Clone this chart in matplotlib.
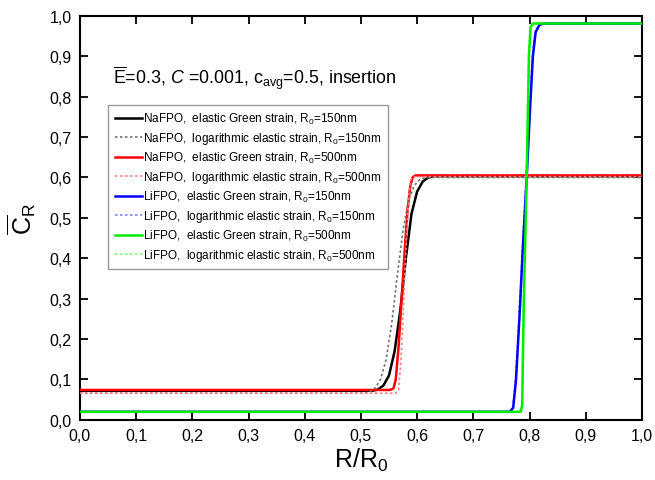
import matplotlib
matplotlib.use("Agg")
import matplotlib.pyplot as plt
from matplotlib.ticker import FuncFormatter

plt.rcParams['font.family'] = ['Liberation Sans', 'DejaVu Sans']
plt.rcParams['mathtext.fontset'] = 'custom'
plt.rcParams['mathtext.rm'] = 'Liberation Sans'
plt.rcParams['mathtext.it'] = 'Liberation Sans:italic'
plt.rcParams['mathtext.bf'] = 'Liberation Sans:bold'

# ---- data ----
na150_green_x = [0.0, 0.520, 0.530, 0.540, 0.550, 0.560, 0.570, 0.580, 0.590, 0.600, 0.610, 0.620, 0.630, 1.0]
na150_green_y = [0.072, 0.072, 0.075, 0.085, 0.110, 0.170, 0.270, 0.400, 0.510, 0.565, 0.590, 0.600, 0.603, 0.603]

na150_log_x = [0.0, 0.505, 0.515, 0.525, 0.535, 0.545, 0.555, 0.565, 0.575, 0.585, 0.595, 0.605, 0.615, 1.0]
na150_log_y = [0.066, 0.066, 0.069, 0.078, 0.100, 0.150, 0.240, 0.360, 0.470, 0.545, 0.580, 0.595, 0.600, 0.600]

na500_green_x = [0.0, 0.552, 0.558, 0.562, 0.567, 0.572, 0.578, 0.583, 0.588, 0.592, 0.597, 1.0]
na500_green_y = [0.074, 0.074, 0.078, 0.100, 0.180, 0.290, 0.420, 0.520, 0.580, 0.600, 0.605, 0.605]

na500_log_x = [0.0, 0.562, 0.567, 0.571, 0.575, 0.579, 0.583, 0.586, 0.589, 0.594, 1.0]
na500_log_y = [0.066, 0.066, 0.075, 0.140, 0.260, 0.390, 0.500, 0.565, 0.595, 0.602, 0.602]

li150_green_x = [0.0, 0.765, 0.771, 0.776, 0.782, 0.788, 0.795, 0.801, 0.806, 0.811, 0.818, 0.826, 1.0]
li150_green_y = [0.020, 0.020, 0.030, 0.100, 0.250, 0.420, 0.600, 0.770, 0.900, 0.960, 0.978, 0.981, 0.981]

li150_log_x = [0.0, 0.764, 0.770, 0.775, 0.781, 0.787, 0.794, 0.800, 0.805, 0.810, 0.817, 0.825, 1.0]
li150_log_y = [0.020, 0.020, 0.030, 0.100, 0.250, 0.420, 0.600, 0.770, 0.900, 0.960, 0.978, 0.981, 0.981]

li500_green_x = [0.0, 0.784, 0.787, 0.790, 0.795, 0.799, 0.802, 0.806, 1.0]
li500_green_y = [0.020, 0.020, 0.035, 0.300, 0.600, 0.900, 0.972, 0.981, 0.981]

li500_log_x = [0.0, 0.783, 0.786, 0.789, 0.794, 0.798, 0.801, 0.805, 1.0]
li500_log_y = [0.020, 0.020, 0.035, 0.300, 0.600, 0.900, 0.972, 0.981, 0.981]

labels = [
    r'NaFPO,  elastic Green strain, R$_\mathregular{0}$=150nm',
    r'NaFPO,  logarithmic elastic strain, R$_\mathregular{0}$=150nm',
    r'NaFPO,  elastic Green strain, R$_\mathregular{0}$=500nm',
    r'NaFPO,  logarithmic elastic strain, R$_\mathregular{0}$=500nm',
    r'LiFPO,  elastic Green strain, R$_\mathregular{0}$=150nm',
    r'LiFPO,  logarithmic elastic strain, R$_\mathregular{0}$=150nm',
    r'LiFPO,  elastic Green strain, R$_\mathregular{0}$=500nm',
    r'LiFPO,  logarithmic elastic strain, R$_\mathregular{0}$=500nm',
]
x_ticks = [0.0, 0.1, 0.2, 0.3, 0.4, 0.5, 0.6, 0.7, 0.8, 0.9, 1.0]
y_ticks = [0.0, 0.1, 0.2, 0.3, 0.4, 0.5, 0.6, 0.7, 0.8, 0.9, 1.0]

fig = plt.figure(figsize=(6.55, 4.81), dpi=100)
ax = fig.add_axes([0.122, 0.125, 0.858, 0.84])

series = [
    (na150_green_x, na150_green_y, 'black', '-', 1.8, 3),
    (na150_log_x, na150_log_y, '#707070', (0, (1.5, 1.5)), 1.2, 4),
    (na500_green_x, na500_green_y, '#ff0000', '-', 1.8, 3),
    (na500_log_x, na500_log_y, '#ff8080', (0, (1.5, 1.5)), 1.2, 4),
    (li150_green_x, li150_green_y, '#0000ff', '-', 1.8, 3),
    (li150_log_x, li150_log_y, '#8080ff', (0, (1.5, 1.5)), 1.2, 2),
    (li500_green_x, li500_green_y, '#00ee00', '-', 1.8, 3),
    (li500_log_x, li500_log_y, '#80ff80', (0, (1.5, 1.5)), 1.2, 2),
]
for (xs, ys, c, ls, lw, z), lab in zip(series, labels):
    ax.plot(xs, ys, color=c, linestyle=ls, linewidth=lw, zorder=z, label=lab)

ax.set_xlim(0, 1)
ax.set_ylim(0, 1)
ax.set_xticks(x_ticks)
ax.set_yticks(y_ticks)
fmt = FuncFormatter(lambda v, p: f'{v:.1f}'.replace('.', ','))
ax.xaxis.set_major_formatter(fmt)
ax.yaxis.set_major_formatter(fmt)
ax.tick_params(direction='in', top=True, right=True, length=6, width=1.3,
               labelsize=11.5, pad=6, colors='black')
for s in ax.spines.values():
    s.set_linewidth(1.5)

ax.set_xlabel(r'R/R$_\mathregular{0}$', fontsize=18, labelpad=2)
ax.set_ylabel(r'$\overline{\mathregular{C}}_\mathregular{R}$', fontsize=18, labelpad=8)

ax.text(0.059, 0.835,
        r'$\overline{\mathregular{E}}$=0.3, $\mathit{C}$ =0.001, c$_\mathregular{avg}$=0.5, insertion',
        transform=ax.transAxes, fontsize=12.9, va='baseline', ha='left')

leg = ax.legend(loc='upper left', bbox_to_anchor=(0.05, 0.78), borderaxespad=0,
                fontsize=8.5, handlelength=2.3, handletextpad=0.15, labelspacing=0.33,
                frameon=True, fancybox=False, edgecolor='#808080', borderpad=0.55)
leg.get_frame().set_linewidth(1.0)

fig.savefig('out.png', dpi=100)
